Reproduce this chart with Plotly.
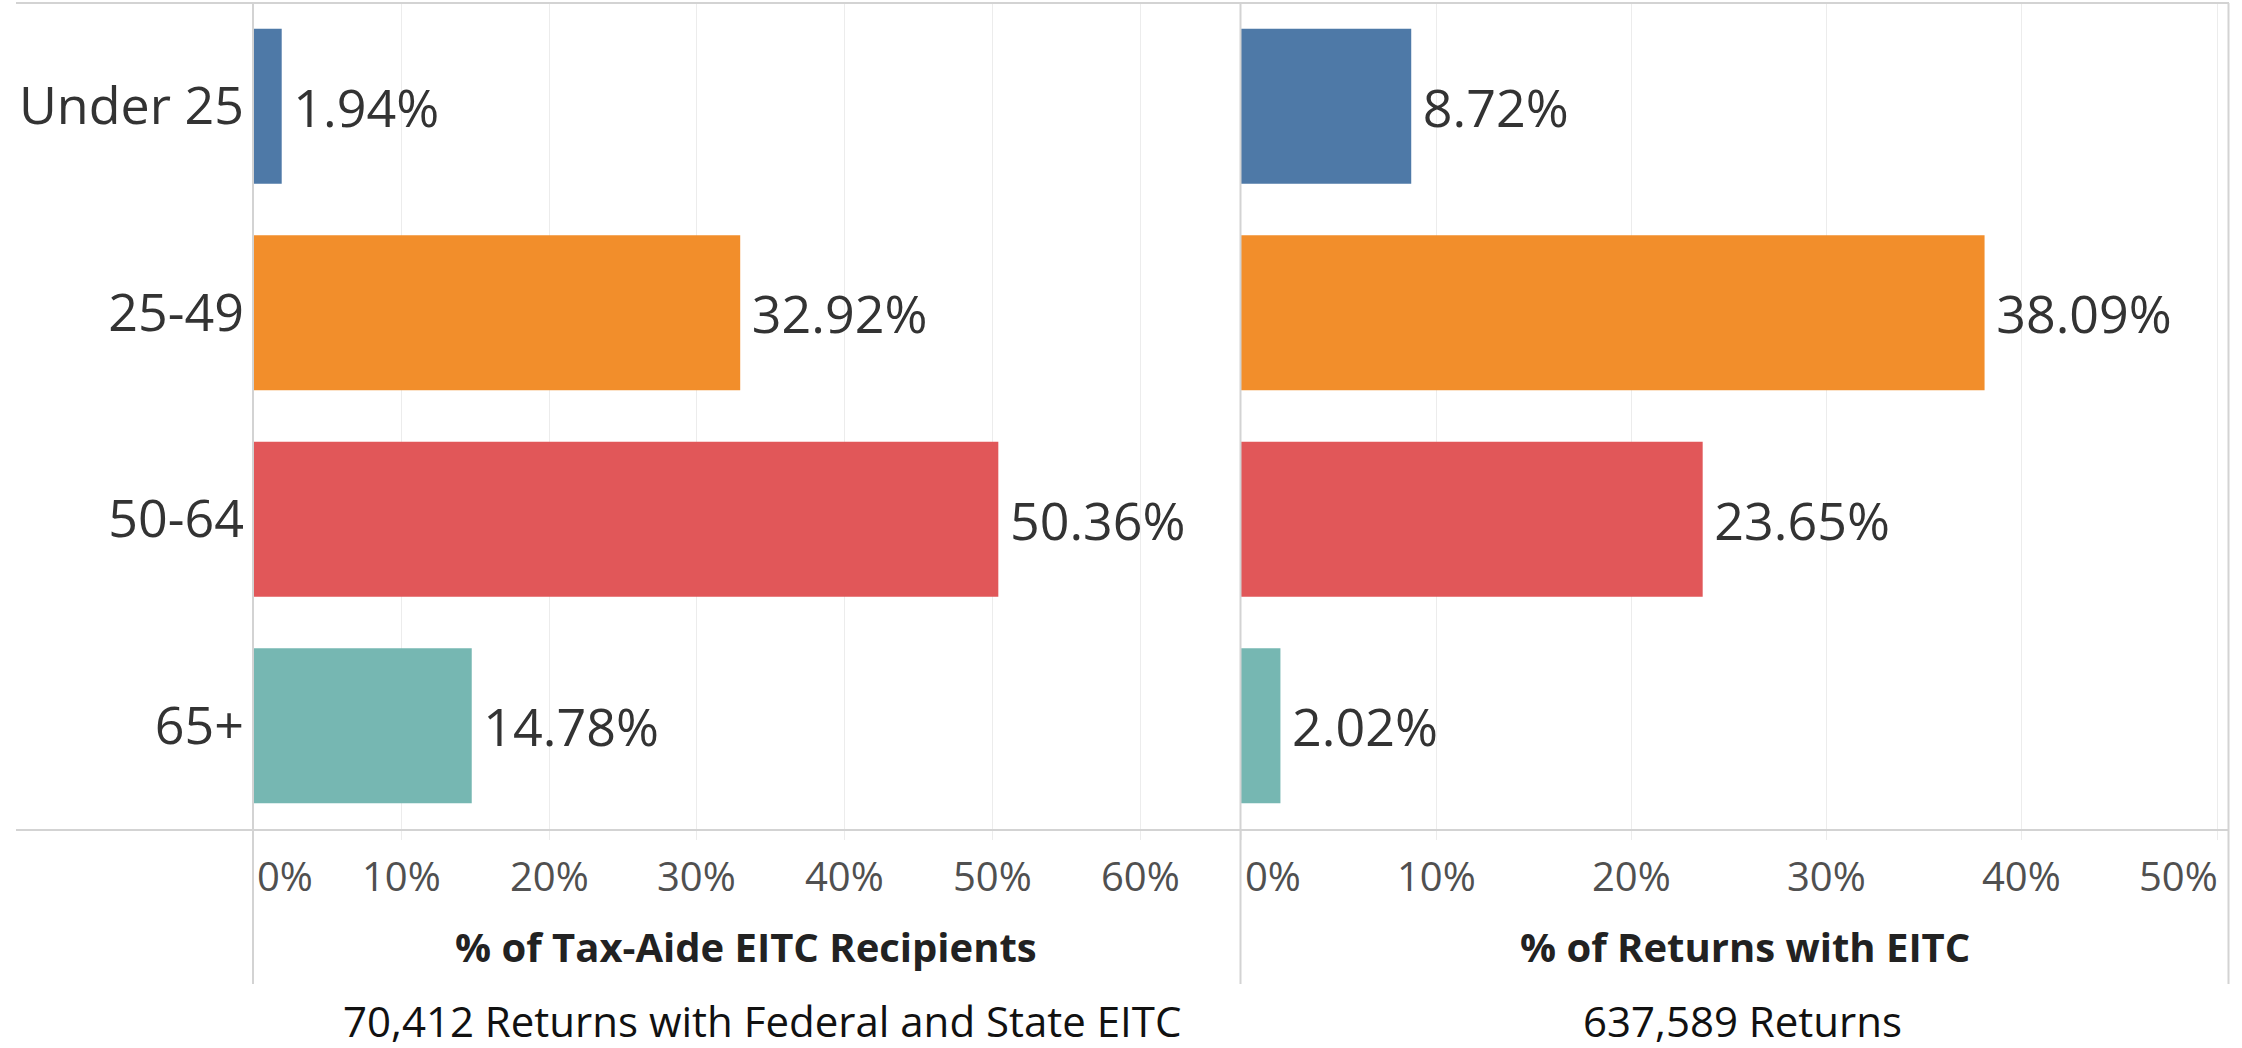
import plotly.graph_objects as go

# ---- data ----
CATEGORIES = ["Under 25", "25-49", "50-64", "65+"]
TAXAIDE_PCT = [1.94, 32.92, 50.36, 14.78]
ALL_RETURNS_PCT = [8.72, 38.09, 23.65, 2.02]
BAR_COLORS = ["#4e79a7", "#f28e2b", "#e15759", "#76b7b2"]
LEFT_TICKS = [0, 10, 20, 30, 40, 50, 60]
RIGHT_TICKS = [0, 10, 20, 30, 40, 50]
LEFT_TITLE = "% of Tax-Aide EITC Recipients"
RIGHT_TITLE = "% of Returns with EITC"
LEFT_NOTE = "70,412 Returns with Federal and State EITC"
RIGHT_NOTE = "637,589 Returns"

W, H = 2242, 1048
FONT = "Open Sans"


def fx(p):
    return p / W


def fy(p):
    return 1 - p / H


LEFT_DOM = [fx(253), fx(1240)]
RIGHT_DOM = [fx(1241), fx(2228)]
Y_DOM = [fy(829), fy(3)]

fig = go.Figure()
fig.add_trace(go.Bar(
    y=CATEGORIES, x=TAXAIDE_PCT, orientation="h", width=0.75,
    marker=dict(color=BAR_COLORS, line=dict(width=0)),
    texttemplate="\u2009%{x:.2f}%", textposition="outside",
    textfont=dict(family=FONT, size=52, color="#333333"),
    constraintext="none", cliponaxis=False,
    xaxis="x", yaxis="y", showlegend=False, hoverinfo="skip",
))
fig.add_trace(go.Bar(
    y=CATEGORIES, x=ALL_RETURNS_PCT, orientation="h", width=0.75,
    marker=dict(color=BAR_COLORS, line=dict(width=0)),
    texttemplate="\u2009%{x:.2f}%", textposition="outside",
    textfont=dict(family=FONT, size=52, color="#333333"),
    constraintext="none", cliponaxis=False,
    xaxis="x2", yaxis="y2", showlegend=False, hoverinfo="skip",
))

grid_col = "#ececec"
line_col = "#d3d3d3"

xcommon = dict(showgrid=True, gridcolor=grid_col, gridwidth=1, zeroline=False,
               showline=False, showticklabels=False, ticks="outside",
               ticklen=10, tickcolor=grid_col, tickwidth=1, tickmode="array",
               fixedrange=True)

fig.update_layout(
    width=W, height=H,
    margin=dict(l=0, r=0, t=0, b=0),
    paper_bgcolor="white", plot_bgcolor="white",
    font=dict(family=FONT, color="#333333"),
    bargap=0.25,
    xaxis=dict(domain=LEFT_DOM, range=[0, 66.69], tickvals=LEFT_TICKS,
               anchor="y", **xcommon),
    xaxis2=dict(domain=RIGHT_DOM, range=[0, 50.56], tickvals=RIGHT_TICKS,
                anchor="y2", **xcommon),
    yaxis=dict(domain=Y_DOM, categoryorder="array", categoryarray=CATEGORIES,
               range=[3.5, -0.5], anchor="x", showgrid=False, zeroline=False,
               showline=False, ticks="", ticklabelstandoff=8,
               tickfont=dict(family=FONT, size=52, color="#333333"),
               fixedrange=True),
    yaxis2=dict(domain=Y_DOM, categoryorder="array", categoryarray=CATEGORIES,
                range=[3.5, -0.5], anchor="x2", showgrid=False,
                zeroline=False, showline=False, showticklabels=False,
                ticks="", fixedrange=True),
)

shapes = []
# top border and bottom axis line
for ypx in (3, 830):
    shapes.append(dict(type="line", xref="paper", yref="paper",
                       x0=fx(16), x1=fx(2229), y0=fy(ypx), y1=fy(ypx),
                       line=dict(color=line_col, width=2)))
# vertical dividers
for xpx in (253, 1240.5, 2228.5):
    shapes.append(dict(type="line", xref="paper", yref="paper",
                       x0=fx(xpx), x1=fx(xpx), y0=fy(3), y1=fy(984),
                       line=dict(color=line_col, width=2)))
fig.update_layout(shapes=shapes)

ann = []
tick_font = dict(family=FONT, size=40, color="#505050")
for xref, ticks in (("x", LEFT_TICKS), ("x2", RIGHT_TICKS)):
    for i, t in enumerate(ticks):
        if i == 0:
            xa, xs = "left", 2
        elif xref == "x2" and i == len(ticks) - 1:
            xa, xs = "right", 3
        else:
            xa, xs = "center", 0
        ann.append(dict(x=t, xref=xref, y=fy(875), yref="paper",
                        text=f"{t}%", showarrow=False, xanchor=xa,
                        yanchor="middle", xshift=xs, font=tick_font))

title_font = dict(family=FONT, size=40, color="#222222", weight="bold")
ann.append(dict(x=fx(746), y=fy(946), xref="paper", yref="paper",
                text=f"<b>{LEFT_TITLE}</b>", showarrow=False,
                xanchor="center", yanchor="middle", font=title_font))
ann.append(dict(x=fx(1745), y=fy(946), xref="paper", yref="paper",
                text=f"<b>{RIGHT_TITLE}</b>", showarrow=False,
                xanchor="center", yanchor="middle", font=title_font))

note_font = dict(family=FONT, size=42, color="#111111")
ann.append(dict(x=fx(762), y=fy(1020), xref="paper", yref="paper",
                text=LEFT_NOTE, showarrow=False, xanchor="center",
                yanchor="middle", font=note_font))
ann.append(dict(x=fx(1742), y=fy(1020), xref="paper", yref="paper",
                text=RIGHT_NOTE, showarrow=False, xanchor="center",
                yanchor="middle", font=note_font))
fig.update_layout(annotations=ann)

fig.write_html(
    "out.html",
    config={"displayModeBar": False},
    post_script="document.body.style.margin='0';document.body.style.overflow='hidden';",
)
